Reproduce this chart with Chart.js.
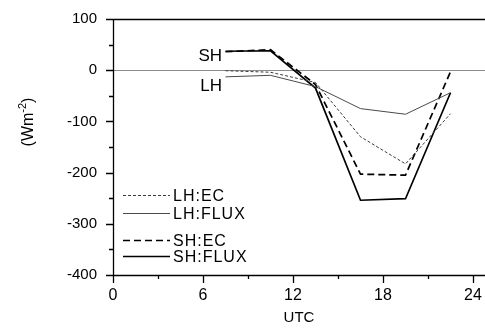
<!DOCTYPE html>
<html>
<head>
<meta charset="utf-8">
<script src="https://cdn.jsdelivr.net/npm/chart.js@4.4.1/dist/chart.umd.min.js"></script>
<style>
  html, body { margin: 0; padding: 0; background: #fff; }
  #wrap { width: 485px; height: 333px; }
</style>
</head>
<body>
<div id="wrap"><canvas id="c" width="485" height="333"></canvas></div>
<script>
// Hours (UTC) of the 3-hourly flux estimates
const hours = [7.5, 10.5, 13.5, 16.5, 19.5, 22.5];

// Latent heat flux (W m-2)
const lhEC   = [-1, -4, -24, -130, -183, -85];
const lhFLUX = [-13, -10, -32, -75, -86, -44];

// Sensible heat flux (W m-2)
const shEC   = [36, 40, -28, -203, -205, -3];
const shFLUX = [37, 38, -35, -254, -251, -44];

const seriesNames = ['LH:EC', 'LH:FLUX', 'SH:EC', 'SH:FLUX'];
const xTickValues = [0, 3, 6, 9, 12, 15, 18, 21, 24];
const xTickLabels = ['0', '', '6', '', '12', '', '18', '', '24'];
const yTickValues = [100, 50, 0, -50, -100, -150, -200, -250, -300, -350, -400];
const yTickLabels = ['100', '', '0', '', '-100', '', '-200', '', '-300', '', '-400'];

const toPoints = vals => hours.map((h, i) => ({ x: h, y: vals[i] }));

const FONT = '"Liberation Sans", Arial, Helvetica, sans-serif';

const datasets = [
  { label: seriesNames[0], data: toPoints(lhEC),   borderColor: '#3a3a3a', borderWidth: 1,   borderDash: [3, 2] },
  { label: seriesNames[1], data: toPoints(lhFLUX), borderColor: '#4a4a4a', borderWidth: 1,   borderDash: [] },
  { label: seriesNames[2], data: toPoints(shEC),   borderColor: '#000000', borderWidth: 1.7, borderDash: [7, 4] },
  { label: seriesNames[3], data: toPoints(shFLUX), borderColor: '#000000', borderWidth: 1.7, borderDash: [] }
].map(d => Object.assign(d, { fill: false, pointRadius: 0, tension: 0 }));

// Frame, zero line, tick marks, axis titles, series labels and the legend box
const decorations = {
  id: 'decorations',
  beforeDatasetsDraw(chart) {
    const { ctx, chartArea: a, scales: { y } } = chart;
    ctx.save();
    const y0 = Math.round(y.getPixelForValue(0)) + 0.5;
    ctx.strokeStyle = '#8c8c8c';
    ctx.lineWidth = 1;
    ctx.beginPath();
    ctx.moveTo(a.left, y0);
    ctx.lineTo(a.right, y0);
    ctx.stroke();
    ctx.restore();
  },
  afterDraw(chart) {
    const { ctx, chartArea: a, scales: { x, y } } = chart;
    ctx.save();
    ctx.strokeStyle = '#000';
    ctx.lineWidth = 1.3;
    ctx.beginPath();
    // top line, left axis, bottom axis
    ctx.moveTo(a.left, a.top + 0.5);
    ctx.lineTo(a.right, a.top + 0.5);
    ctx.moveTo(a.left + 0.5, a.top);
    ctx.lineTo(a.left + 0.5, a.bottom);
    ctx.moveTo(a.left, a.bottom + 0.5);
    ctx.lineTo(a.right, a.bottom + 0.5);
    // y tick marks (outward)
    yTickValues.forEach((v, i) => {
      const py = Math.round(y.getPixelForValue(v)) + 0.5;
      const len = yTickLabels[i] ? 7 : 4;
      ctx.moveTo(a.left - len, py);
      ctx.lineTo(a.left + 0.5, py);
    });
    // x tick marks (outward)
    xTickValues.forEach((v, i) => {
      const px = Math.round(x.getPixelForValue(v)) + 0.5;
      const len = xTickLabels[i] ? 8 : 4;
      ctx.moveTo(px, a.bottom);
      ctx.lineTo(px, a.bottom + len);
    });
    ctx.stroke();

    // axis titles
    ctx.fillStyle = '#000';
    ctx.font = '15px ' + FONT;
    ctx.textAlign = 'center';
    ctx.textBaseline = 'middle';
    ctx.fillText('UTC', x.getPixelForValue(12.4), 318);

    ctx.save();
    ctx.translate(27, 122);
    ctx.rotate(-Math.PI / 2);
    const mainFont = '16px ' + FONT;
    const supFont = '11px ' + FONT;
    ctx.font = mainFont;
    const w1 = ctx.measureText('(Wm').width;
    const w3 = ctx.measureText(')').width;
    ctx.font = supFont;
    const w2 = ctx.measureText('-2').width;
    let sx = -(w1 + w2 + w3) / 2;
    ctx.textAlign = 'left';
    ctx.textBaseline = 'alphabetic';
    ctx.font = mainFont;
    ctx.fillText('(Wm', sx, 6);
    sx += w1;
    ctx.font = supFont;
    ctx.fillText('-2', sx, -1);
    sx += w2;
    ctx.font = mainFont;
    ctx.fillText(')', sx, 6);
    ctx.restore();

    // series group labels beside the first points
    const shMeta = chart.getDatasetMeta(3).data[0];
    const lhMeta = chart.getDatasetMeta(1).data[0];
    ctx.font = '17px ' + FONT;
    ctx.textAlign = 'right';
    ctx.textBaseline = 'middle';
    ctx.fillText('SH', shMeta.x - 3.5, shMeta.y + 5);
    ctx.fillText('LH', lhMeta.x - 3.5, lhMeta.y + 9);

    // legend
    const rows = [195.5, 213.5, 240.5, 256.5];
    ctx.font = '16px ' + FONT;
    ctx.textAlign = 'left';
    if ('letterSpacing' in ctx) ctx.letterSpacing = '1px';
    chart.data.datasets.forEach((ds, i) => {
      const ry = rows[i];
      ctx.strokeStyle = ds.borderColor;
      ctx.lineWidth = ds.borderWidth;
      ctx.setLineDash(ds.borderDash);
      ctx.beginPath();
      ctx.moveTo(123, ry);
      ctx.lineTo(170, ry);
      ctx.stroke();
      ctx.setLineDash([]);
      ctx.fillStyle = '#000';
      ctx.fillText(ds.label, 173, ry + 1);
    });
    ctx.restore();
  }
};

const noEdgePadding = s => {
  s.paddingTop = 0; s.paddingBottom = 0; s.paddingLeft = 0; s.paddingRight = 0;
};

new Chart(document.getElementById('c'), {
  type: 'line',
  data: { datasets },
  options: {
    responsive: false,
    animation: false,
    devicePixelRatio: 1,
    layout: { padding: { top: 19, right: 0, bottom: 0, left: 0 } },
    plugins: { legend: { display: false }, tooltip: { enabled: false } },
    scales: {
      x: {
        type: 'linear',
        min: 0,
        max: 24.8,
        afterBuildTicks: s => { s.ticks = xTickValues.map(v => ({ value: v })); },
        afterFit: s => { s.height = 58; noEdgePadding(s); },
        grid: { display: false, drawTicks: false },
        border: { display: false },
        ticks: {
          autoSkip: false,
          maxRotation: 0,
          padding: 11,
          color: '#000',
          font: { family: FONT, size: 16 },
          callback: v => xTickLabels[xTickValues.indexOf(v)] ?? ''
        }
      },
      y: {
        type: 'linear',
        min: -400,
        max: 100,
        afterBuildTicks: s => { s.ticks = yTickValues.map(v => ({ value: v })); },
        afterFit: s => { s.width = 113; noEdgePadding(s); },
        grid: { display: false, drawTicks: false },
        border: { display: false },
        ticks: {
          autoSkip: false,
          padding: 16,
          color: '#000',
          font: { family: FONT, size: 15 },
          callback: v => yTickLabels[yTickValues.indexOf(v)] ?? ''
        }
      }
    }
  },
  plugins: [decorations]
});
</script>
</body>
</html>
